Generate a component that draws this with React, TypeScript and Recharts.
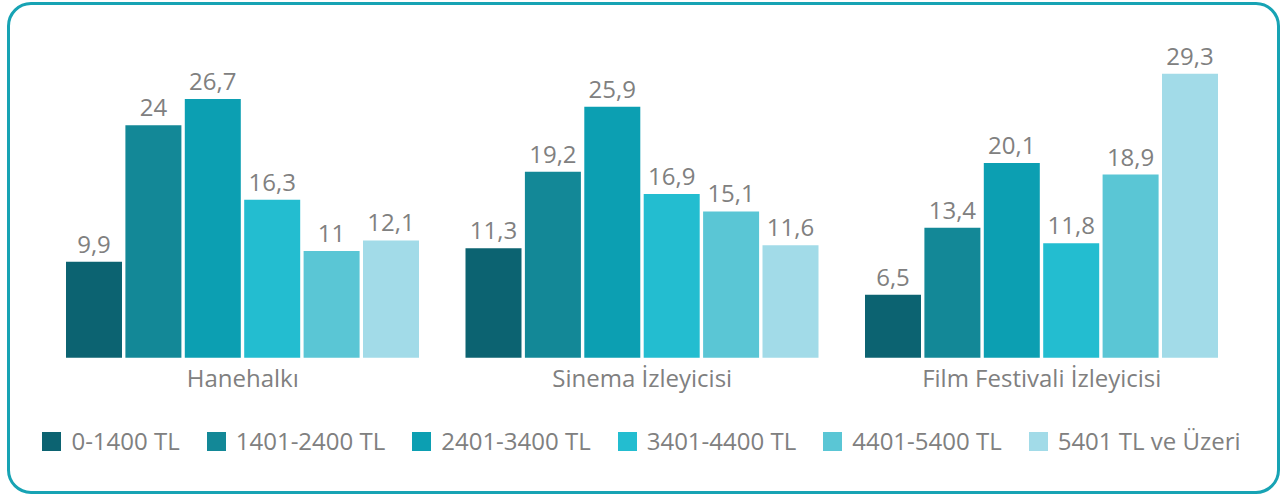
import { Bar, BarChart, LabelList, Legend, XAxis, YAxis } from 'recharts'

// gelir grupları (seriler) ve kategoriler
const groups = ['Hanehalkı', 'Sinema İzleyicisi', 'Film Festivali İzleyicisi']
const brackets = [
  '0-1400 TL',
  '1401-2400 TL',
  '2401-3400 TL',
  '3401-4400 TL',
  '4401-5400 TL',
  '5401 TL ve Üzeri'
]
const colors = ['#0c6371', '#138897', '#0c9fb2', '#23bdd0', '#5ac6d5', '#a2dbe8']

const s0 = [9.9, 11.3, 6.5]
const s1 = [24, 19.2, 13.4]
const s2 = [26.7, 25.9, 20.1]
const s3 = [16.3, 16.9, 11.8]
const s4 = [11, 15.1, 18.9]
const s5 = [12.1, 11.6, 29.3]
const series = [s0, s1, s2, s3, s4, s5]

const data = groups.map((name, i) => {
  const row: Record<string, string | number> = { name }
  series.forEach((s, k) => (row['s' + k] = s[i]))
  return row
})

const font = '"Open Sans", sans-serif'
const gray = '#808080'

// Türkçe ondalık: virgül
const fmt = (v: number) => String(v).replace('.', ',')

function LegendRow({ payload }: any) {
  return (
    <div
      style={{
        display: 'flex',
        justifyContent: 'center',
        alignItems: 'center',
        fontFamily: font,
        fontSize: 24,
        color: gray,
        lineHeight: '30px'
      }}
    >
      {(payload || []).map((p: any, i: number) => (
        <div
          key={p.value}
          style={{ display: 'flex', alignItems: 'center', marginLeft: i ? 27 : 0 }}
        >
          <span style={{ width: 19, height: 19, background: p.color, marginRight: 10 }} />
          <span>{p.value}</span>
        </div>
      ))}
    </div>
  )
}

export default function App() {
  return (
    <div style={{ position: 'absolute', left: 0, top: 0, width: 1283, height: 496, background: '#fff' }}>
      <div
        style={{
          position: 'absolute',
          left: 7,
          top: 2,
          width: 1273,
          height: 492,
          boxSizing: 'border-box',
          border: '3px solid #17a3b4',
          borderRadius: 24
        }}
      />
      <BarChart
        width={1283}
        height={496}
        data={data}
        margin={{ top: 67, right: 41.5, left: 43, bottom: 108.3 }}
        barCategoryGap={23}
        barGap={3.4}
        style={{ position: 'absolute', left: 0, top: 0 }}
      >
        <XAxis
          dataKey='name'
          axisLine={false}
          tickLine={false}
          tickMargin={6}
          height={30}
          interval={0}
          tick={{ fill: gray, fontSize: 24, fontFamily: font }}
        />
        <YAxis hide domain={[0, 30]} />
        <Legend
          layout='horizontal'
          verticalAlign='middle'
          align='center'
          wrapperStyle={{ top: 426, left: 0, width: 1283 }}
          content={<LegendRow />}
        />
        {series.map((_, k) => (
          <Bar
            key={k}
            dataKey={'s' + k}
            name={brackets[k]}
            fill={colors[k]}
            isAnimationActive={false}
          >
            <LabelList
              dataKey={'s' + k}
              position='top'
              offset={9}
              formatter={(v: any) => fmt(v)}
              style={{ fill: gray, fontSize: 24, fontFamily: font }}
            />
          </Bar>
        ))}
      </BarChart>
    </div>
  )
}
